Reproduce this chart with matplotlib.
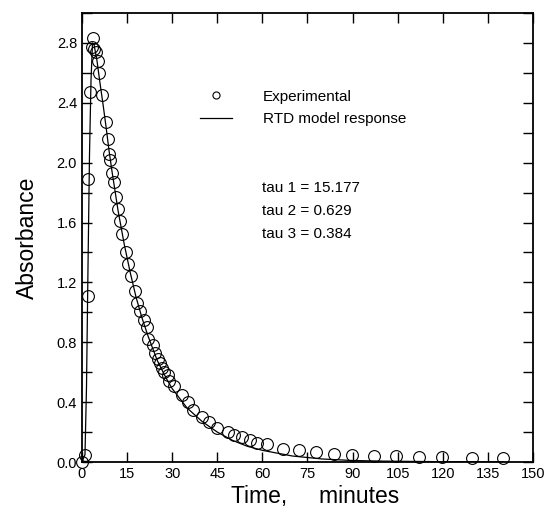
import matplotlib.pyplot as plt
import numpy as np
from matplotlib.ticker import MultipleLocator, FormatStrFormatter

plt.rcParams['font.family'] = ['Liberation Sans', 'DejaVu Sans']

# experimental points (minutes, absorbance)
exp_time = [0.1, 1.0, 1.9, 2.1, 2.7, 3.2, 3.8, 4.1, 4.5, 5.2, 5.8, 6.5, 7.9, 8.5,
            9.1, 9.3, 9.9, 10.8, 11.3, 12.1, 12.6, 13.4, 14.5, 15.4, 16.3, 17.6,
            18.2, 19.3, 20.6, 21.5, 22.1, 23.5, 24.3, 25.2, 26.0, 26.5, 27.3, 28.7,
            29.0, 30.6, 33.2, 35.1, 37.0, 39.8, 42.2, 44.8, 48.4, 50.5, 53.3, 55.9,
            58.3, 61.7, 67.0, 72.3, 77.8, 83.8, 89.7, 97.2, 104.6, 112.2, 119.6,
            129.6, 139.9]
exp_abs = [0.0, 0.05, 1.11, 1.89, 2.47, 2.77, 2.83, 2.76, 2.74, 2.68, 2.60, 2.45,
           2.27, 2.16, 2.06, 2.02, 1.93, 1.87, 1.77, 1.69, 1.61, 1.52, 1.40, 1.32,
           1.24, 1.14, 1.06, 1.01, 0.95, 0.90, 0.82, 0.78, 0.73, 0.69, 0.66, 0.63,
           0.60, 0.58, 0.54, 0.51, 0.45, 0.40, 0.35, 0.30, 0.27, 0.23, 0.20, 0.18,
           0.165, 0.147, 0.13, 0.12, 0.09, 0.08, 0.067, 0.056, 0.05, 0.04, 0.04,
           0.033, 0.033, 0.027, 0.027]

# RTD model response curve
model_time = [0, 1, 1.5, 2, 2.5, 3, 3.5, 4, 5, 6, 7, 8, 9, 10, 12, 14, 16, 18, 20,
              22, 25, 28, 30, 35, 40, 45, 50, 55, 60, 70, 80, 90, 100, 120, 140]
model_abs = [0, 0.05, 0.5, 1.3, 2.05, 2.55, 2.80, 2.79, 2.68, 2.53, 2.39, 2.24,
             2.08, 1.94, 1.68, 1.46, 1.27, 1.10, 0.96, 0.84, 0.68, 0.56, 0.49, 0.36,
             0.27, 0.20, 0.145, 0.105, 0.078, 0.04, 0.02, 0.01, 0.006, 0.002, 0.001]

taus = ['15.177', '0.629', '0.384']

fig = plt.figure(figsize=(5.48, 5.13), dpi=100)
ax = fig.add_axes([0.1496, 0.0994, 0.823, 0.8753])

ax.plot(exp_time, exp_abs, 'o', ms=8.5, mfc='none', mec='black', mew=0.8,
        label='Experimental', clip_on=False, zorder=3)
ax.plot(model_time, model_abs, '-', color='black', lw=0.9, label='RTD model response')

ax.set_xlim(0, 150)
ax.set_ylim(0, 3.0)
ax.xaxis.set_major_locator(MultipleLocator(15))
ax.yaxis.set_major_locator(MultipleLocator(0.4))
ax.yaxis.set_minor_locator(MultipleLocator(0.2))
ax.yaxis.set_major_formatter(FormatStrFormatter('%.1f'))
ax.tick_params(which='both', direction='in', top=True, right=True, length=7,
               width=1, labelsize=10.5)
for s in ax.spines.values():
    s.set_linewidth(1.3)

ax.set_xlabel('Time,     minutes', fontsize=16.5, labelpad=3)
ax.xaxis.label.set_x(0.517)
ax.set_ylabel('Absorbance', fontsize=16.5, labelpad=13)

ax.legend(loc='upper left', bbox_to_anchor=(0.248, 0.843), frameon=False,
          fontsize=11, markerscale=0.6, handlelength=2.1, handletextpad=2.0,
          labelspacing=0.55, borderaxespad=0)

for i, t in enumerate(taus):
    ax.text(0.399, 0.61 - i * 0.051, f'tau {i + 1} = {t}', transform=ax.transAxes,
            fontsize=11, va='center')

plt.savefig('out.png', dpi=100)
